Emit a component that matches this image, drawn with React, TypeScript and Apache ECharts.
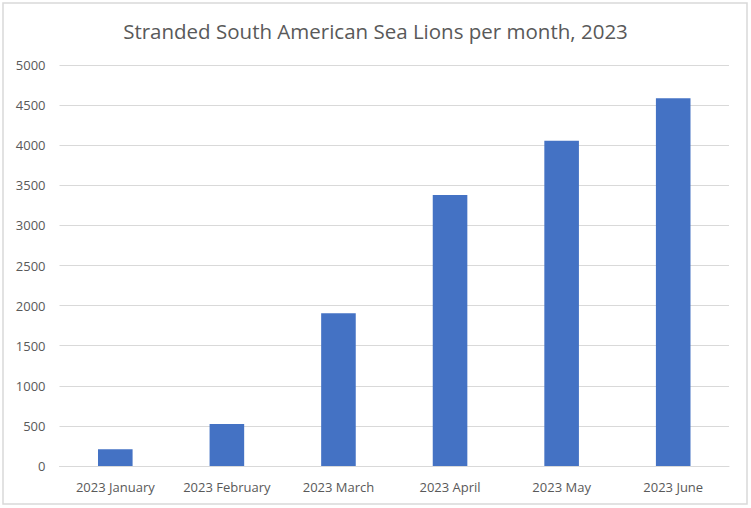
import React, { useEffect, useRef } from "react";
import * as echarts from "echarts";

const categories = ["2023 January", "2023 February", "2023 March", "2023 April", "2023 May", "2023 June"];
const strandedValues = [210, 525, 1905, 3380, 4055, 4585];
const titleText = "Stranded South American Sea Lions per month, 2023";

export default function App() {
  const ref = useRef<HTMLDivElement>(null);
  useEffect(() => {
    if (!ref.current) return;
    const chart = echarts.init(ref.current, null, { renderer: "svg" });
    chart.setOption({
      animation: false,
      backgroundColor: "#ffffff",
      title: {
        text: titleText,
        left: "center",
        top: 15,
        textStyle: { fontFamily: "Open Sans", fontSize: 20.5, fontWeight: "normal", color: "#595959" },
      },
      graphic: [
        {
          type: "rect",
          shape: { x: 3, y: 3, width: 744, height: 501 },
          style: { fill: "none", stroke: "#d9d9d9", lineWidth: 1.5 },
          silent: true,
        },
      ],
      grid: { left: 59.5, right: 22, top: 65, bottom: 42, containLabel: false },
      xAxis: {
        type: "category",
        data: categories,
        axisLine: { lineStyle: { color: "#d9d9d9", width: 1 } },
        axisTick: { show: false },
        axisLabel: { color: "#595959", fontFamily: "Open Sans", fontSize: 13, margin: 14, interval: 0, hideOverlap: false },
      },
      yAxis: {
        type: "value",
        min: 0,
        max: 5000,
        interval: 500,
        axisLine: { show: false },
        axisTick: { show: false },
        splitLine: { lineStyle: { color: "#d9d9d9", width: 1 } },
        axisLabel: {
          color: "#595959",
          fontFamily: "Open Sans",
          fontSize: 13,
          margin: 14,
          formatter: (v: number) => String(v),
        },
      },
      series: [
        {
          type: "bar",
          data: strandedValues,
          barWidth: "31%",
          itemStyle: { color: "#4472c4" },
        },
      ],
    });
    return () => chart.dispose();
  }, []);
  return <div ref={ref} style={{ position: "fixed", left: 0, top: 0, width: 751, height: 508 }} />;
}
